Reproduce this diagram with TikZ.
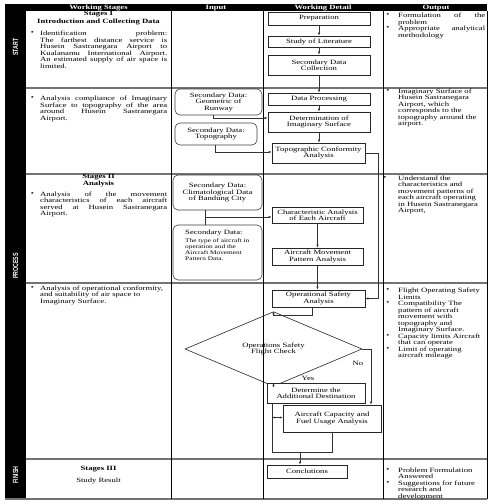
\documentclass[tikz,border=0pt]{standalone}
\usepackage{fontspec}
\setmainfont[FakeStretch=1.33]{Liberation Serif}
\newfontfamily\bandfont[FakeStretch=0.7]{Liberation Sans}
\usetikzlibrary{arrows.meta,shapes.geometric}
\newcommand\fsz{\fontsize{6.5}{6.45}\selectfont}
\newcommand\fssm{\fontsize{5.5}{5.75}\selectfont}
\begin{document}
\begin{tikzpicture}[x=1pt,y=-1pt,font=\fsz,
  every node/.style={inner sep=0pt},
  wd/.style={draw=black!85,line width=0.6pt,align=center,fill=white},
  ibox/.style={draw=black!75,line width=0.6pt,rounded corners=5pt,align=center},
  conn/.style={draw=black!80,line width=0.6pt},
  arr/.style={conn,-{Latex[length=3pt,width=2.4pt]}},
  jpar/.style={anchor=north west,align=justify,text width=#1},
  rpar/.style={anchor=north west,align=left,text width=#1},
  hd/.style={text=white,font=\fsz\bfseries},
  band/.style={text=white,rotate=90,font=\bandfont\bfseries\fontsize{7.5}{8}\selectfont},
  hline/.style={draw=black!55,line width=1.1pt},
  vline/.style={draw=black,line width=0.7pt}]
% canvas
\fill[white] (0,0) rectangle (492,504);
\path[use as bounding box] (0,0) rectangle (492,504);
% table
\fill[black] (5,4) rectangle (26,499);
\fill[black] (5,4) rectangle (487,11);
\foreach \yy in {88,174,283,459} {\draw[hline] (26,\yy) -- (487,\yy);}
\draw[hline] (5,499) -- (487,499);
\foreach \xx in {171,263,383,487} {\draw[vline] (\xx,11) -- (\xx,499);}
% headers
\node[hd] (hws) at (98.5,7.8) {Working Stages};
\node[hd] (hin) at (216,7.8) {Input};
\node[hd] (hwd) at (323,7.8) {Working Detail};
\node[hd] (hout) at (436,7.8) {Output};
% band labels
\node[band] (lstart) at (15.5,47) {START};
\node[band] (lproc) at (15.5,266) {PROCESS};
\node[band] (lfin) at (15.5,475) {FINISH};
% working stages
\node (s1a) at (98.5,14.5) {\bfseries Stages I};
\node (s1b) at (98.5,21.5) {\bfseries Introduction and Collecting Data};
\node (wb1) at (32.5,33.5) {\textbullet};
\node[jpar=127] (wt1) at (40,31) {Identification problem:\linebreak The farthest distance service is\linebreak Husein Sastranegara Airport to\linebreak Kualanamu International Airport.\linebreak An estimated supply of air space is\linebreak limited.};
\node (wb2) at (32.5,98.5) {\textbullet};
\node[jpar=127] (wt2) at (40,96) {Analysis compliance of Imaginary\linebreak Surface to topography of the area\linebreak around Husein Sastranegara\linebreak Airport.};
\node (s2a) at (98.5,177.5) {\bfseries Stages II};
\node (s2b) at (98.5,184) {\bfseries Analysis};
\node (wb3) at (32.5,194) {\textbullet};
\node[jpar=127] (wt3) at (40,191.5) {Analysis of the movement\linebreak characteristics of each aircraft\linebreak served at Husein Sastranegara\linebreak Airport.};
\node (wb4) at (32.5,288) {\textbullet};
\node[rpar=135] (wt4) at (40,285.5) {Analysis of operational conformity,\\and suitability of air space to\\Imaginary Surface.};
\node (s3a) at (98.5,469) {\bfseries Stages III};
\node (s3b) at (98.5,481) {Study Result};
% output
\node (ob1) at (388,15.5) {\textbullet};
\node[jpar=87] (ot1) at (398,13) {Formulation of the\linebreak problem};
\node (ob2) at (388,28.5) {\textbullet};
\node[jpar=87] (ot2) at (398,26) {Appropriate analytical\linebreak methodology};
\node (ob3) at (388,91) {\textbullet};
\node[rpar=95] (ot3) at (398,88.5) {Imaginary Surface of\\Husein Sastranegara\\Airport, which\\corresponds to the\\topography around the\\airport.};
\node (ob4) at (385,178) {\textbullet};
\node[rpar=95] (ot4) at (398,175.5) {Understand the\\characteristics and\\movement patterns of\\each aircraft operating\\in Husein Sastranegara\\Airport,};
\node (ob5) at (388,290.5) {\textbullet};
\node[rpar=95] (ot5) at (398,288) {Flight Operating Safety\\Limits};
\node (ob6) at (388,303.5) {\textbullet};
\node[rpar=95] (ot6) at (398,301) {Compatibility The\\pattern of aircraft\\movement with\\topography and\\Imaginary Surface.};
\node (ob7) at (388,336) {\textbullet};
\node[rpar=95] (ot7) at (398,333.5) {Capacity limits Aircraft\\that can operate};
\node (ob8) at (388,349) {\textbullet};
\node[rpar=95] (ot8) at (398,346.5) {Limit of operating\\aircraft mileage};
\node (ob9) at (388,470) {\textbullet};
\node[rpar=95] (ot9) at (398,467.5) {Problem Formulation\\Answered};
\node (ob10) at (388,483) {\textbullet};
\node[rpar=95] (ot10) at (398,480.5) {Suggestions for future\\research and\\development};
% working detail boxes
\node[wd,minimum width=102,minimum height=13] (prep) at (319,18.5) {Preparation};
\node[wd,minimum width=102,minimum height=11] (lit) at (319,41.5) {Study of Literature};
\node[wd,minimum width=102,minimum height=20] (sdc) at (319,65) {Secondary Data\\Collection};
\node[wd,minimum width=102,minimum height=12] (dp) at (319,99) {Data Processing};
\node[wd,minimum width=102,minimum height=20] (dis) at (319,122) {Determination of\\Imaginary Surface};
\node[wd,minimum width=93,minimum height=20] (tca) at (318.5,153) {Topographic Conformity\\Analysis};
\node[wd,minimum width=91,minimum height=16] (cha) at (317.5,215) {Characteristic Analysis\\of Each Aircraft};
\node[wd,minimum width=91,minimum height=17] (ampa) at (317.5,256.5) {Aircraft Movement\\Pattern Analysis};
\node[wd,minimum width=93,minimum height=17] (osa) at (318.5,298.5) {Operational Safety\\Analysis};
\node[diamond,draw=black!85,line width=0.6pt,align=center,minimum width=177,minimum height=52] (chk) at (273.5,349) {Operations Safety\\Flight Check};
\node[wd,minimum width=98,minimum height=20] (dad) at (316,393) {Determine the\\Additional Destination};
\node[wd,minimum width=98,minimum height=27] (acf) at (332,418.5) {Aircraft Capacity and\\Fuel Usage Analysis};
\node[wd,minimum width=80,minimum height=13] (conc) at (307,471.5) {Conclutions};
% input boxes
\node[ibox,minimum width=87,minimum height=26] (geo) at (218.5,102) {Secondary Data:\\Geometric of\\Runway};
\node[ibox,minimum width=82,minimum height=22] (topo) at (216,134) {Secondary Data:\\Topography};
\node[ibox,minimum width=89,minimum height=35] (clim) at (217.5,192.5) {Secondary Data:\\Climatological Data\\of Bandung City};
\node[ibox,minimum width=89,minimum height=55] (typ) at (217.5,252.5) {};
\node[anchor=west] (typt1) at (185,233) {Secondary Data:};
\node[rpar=75,font=\fssm] (typt2) at (185,238.8) {The type of aircraft in\\operation and the\\Aircraft Movement\\Pattern Data.};
% connectors
\draw[arr] (prep.south) -- (lit.north);
\draw[arr] (lit.south) -- (sdc.north);
\draw[arr] (sdc.south) -- (dp.north);
\draw[arr] (dp.south) -- (dis.north);
\draw[arr] (dis.south) -- (dis.south |- tca.north);
\draw[arr] (tca.east) -- ++(13,0) |- (osa.east);
\draw[arr] ([xshift=-5.5pt]geo.south) |- ([yshift=4pt]dis.west);
\draw[arr] ([xshift=-1pt]topo.south) |- ([yshift=1pt]tca.west);
\draw[conn] ([xshift=-12.5pt]clim.south) -- ([xshift=-12.5pt]typ.north);
\coordinate (cj) at (205,217);
\draw[arr] (cj) -- (cj -| cha.west);
\draw[arr] (cha.south) -- (ampa.north);
\draw[arr] (ampa.south) -- (ampa.south |- osa.north);
\draw[arr] ([xshift=-6.5pt]osa.south) -- ++(0,8) -| (chk.north);
\draw[arr] (chk.south) -- (chk.south |- dad.north);
\node (yes) at (308,378.5) {Yes};
\draw[arr] (chk.east) -| ([xshift=39pt]acf.north);
\node (no) at (358,363) {No};
\draw[conn] ([xshift=-44pt]dad.south) -- ++(0,49) -| (acf.south);
\coordinate (dj) at (272,417.5);
\draw[conn,{Latex[length=2.5pt,width=2pt]}-{Latex[length=2.5pt,width=2pt]}] (dj) -- (dj -| acf.west);
\coordinate (cj2) at (300,452);
\draw[arr] (cj2) -- (cj2 |- conc.north);
\end{tikzpicture}
\end{document}
